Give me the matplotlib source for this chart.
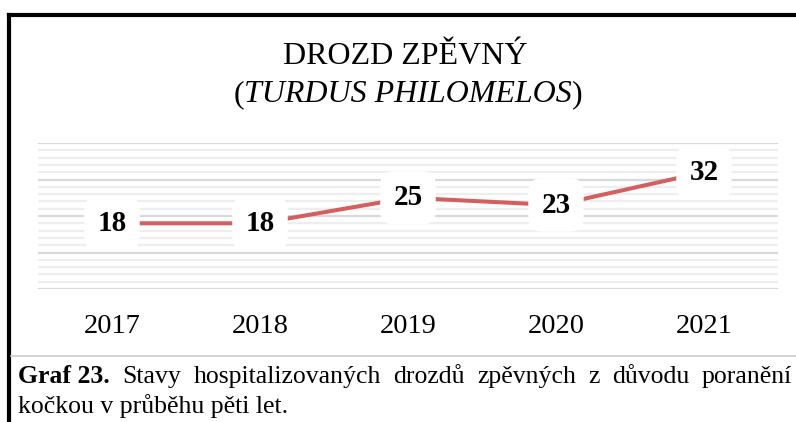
import matplotlib
matplotlib.use('Agg')
import matplotlib.pyplot as plt
from matplotlib.lines import Line2D

# Daten
years = ['2017', '2018', '2019', '2020', '2021']
counts = [18, 18, 25, 23, 32]

title_main = 'DROZD ZPĚVNÝ'
title_latin = 'TURDUS PHILOMELOS'
caption_bold = 'Graf 23.'
caption_line1 = 'Stavy hospitalizovaných drozdů zpěvných z důvodu poranění'
caption_line2 = 'kočkou v průběhu pěti let.'

plt.rcParams['font.family'] = ['Liberation Serif', 'DejaVu Serif']

W, H = 796, 422
fig = plt.figure(figsize=(W / 100, H / 100), dpi=100)
fig.patch.set_facecolor('white')

# Diagrammbereich
ax = fig.add_axes([38 / W, 1 - 289 / H, 740 / W, 146 / H])
x = list(range(len(years)))
ax.plot(x, counts, color='#d35f5f', lw=2.9, solid_capstyle='butt', zorder=3)
ax.set_xlim(-0.5, len(years) - 0.5)
ax.set_ylim(0, 40)
ax.set_yticks(range(0, 41, 10))
ax.set_yticks(range(0, 41, 2), minor=True)
ax.grid(True, axis='y', which='major', color='#d9d9d9', lw=1.6)
ax.grid(True, axis='y', which='minor', color='#eeeeee', lw=1.6)
ax.set_axisbelow(True)
for s in ax.spines.values():
    s.set_visible(False)
ax.tick_params(axis='y', which='both', left=False, labelleft=False)
ax.tick_params(axis='x', length=0, pad=18, labelsize=20.5)
ax.set_xticks(x)
ax.set_xticklabels(years)

for xi, v in zip(x, counts):
    ax.text(xi, v, str(v), ha='center', va='center', fontsize=21,
            fontweight='bold', zorder=5,
            bbox=dict(boxstyle='round,pad=0.45', fc='white', ec='none'))

# Titel (zweite Zeile teilweise kursiv)
fig.text(405 / W, 1 - 57 / H, title_main, ha='center', va='center', fontsize=23)
fig.canvas.draw()
r = fig.canvas.get_renderer()
ty = 1 - 95 / H
parts = [('(', 'normal'), (title_latin, 'italic'), (')', 'normal')]
tmp = [fig.text(0, ty, p, fontsize=23, style=st, va='center') for p, st in parts]
widths = [t.get_window_extent(r).width for t in tmp]
xpos = 408 - sum(widths) / 2
for t, w in zip(tmp, widths):
    t.set_x(xpos / W)
    xpos += w

# Rahmen und Trennlinie
fig.add_artist(Line2D([9 / W, 9 / W], [0, 1 - 15 / H], color='black', lw=3))
fig.add_artist(Line2D([9 / W, 1], [1 - 15 / H, 1 - 15 / H], color='black', lw=3))
fig.add_artist(Line2D([11 / W, 1], [1 - 356 / H, 1 - 356 / H], color='#cccccc', lw=1.2))

# Bildunterschrift, Blocksatz in Zeile 1
left, right = 18, 792
words = [(caption_bold, 'bold')] + [(w, 'normal') for w in caption_line1.split()]
objs = [fig.text(0, 1 - 383 / H, w, fontsize=18.5, fontweight=fw, va='baseline')
        for w, fw in words]
ws = [o.get_window_extent(r).width for o in objs]
gap = (right - left - sum(ws)) / (len(ws) - 1)
xp = left
for o, w in zip(objs, ws):
    o.set_x(xp / W)
    xp += w + gap
fig.text(left / W, 1 - 413 / H, caption_line2, fontsize=18.5, va='baseline')

fig.savefig('out.png', dpi=100)
